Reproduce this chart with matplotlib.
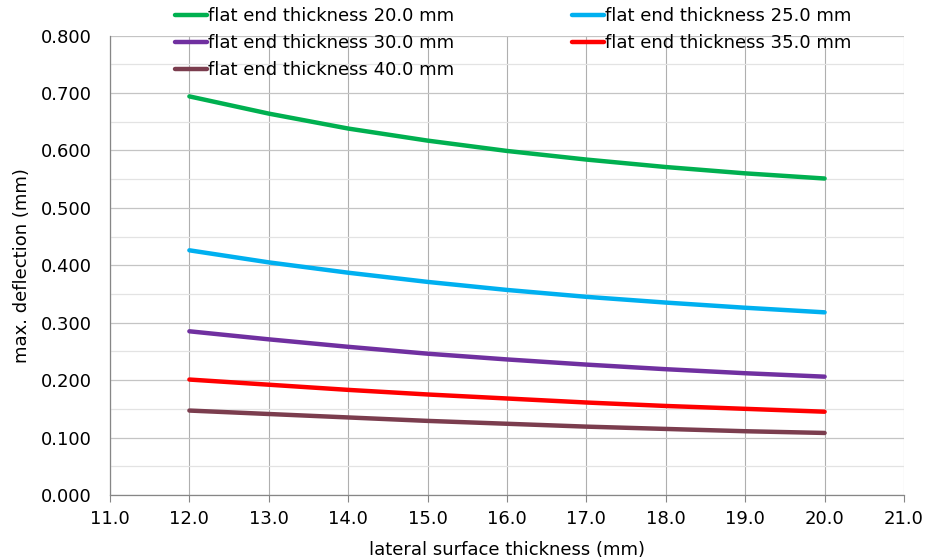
import numpy as np
import matplotlib
matplotlib.use('Agg')
import matplotlib.pyplot as plt
from matplotlib.ticker import MultipleLocator, FormatStrFormatter

# lateral surface thickness (mm)
lateral = [12.0, 13.0, 14.0, 15.0, 16.0, 17.0, 18.0, 19.0, 20.0]

# max. deflection (mm) for each flat end thickness
defl_20 = [0.694, 0.664, 0.638, 0.617, 0.599, 0.584, 0.571, 0.560, 0.551]
defl_25 = [0.426, 0.405, 0.387, 0.371, 0.357, 0.345, 0.335, 0.326, 0.318]
defl_30 = [0.285, 0.271, 0.258, 0.246, 0.236, 0.227, 0.219, 0.212, 0.206]
defl_35 = [0.201, 0.192, 0.183, 0.175, 0.168, 0.161, 0.155, 0.150, 0.145]
defl_40 = [0.147, 0.141, 0.135, 0.129, 0.124, 0.119, 0.115, 0.111, 0.108]

labels = ['flat end thickness 20.0 mm', 'flat end thickness 25.0 mm',
          'flat end thickness 30.0 mm', 'flat end thickness 35.0 mm',
          'flat end thickness 40.0 mm']
colors = ['#00B050', '#00B0F0', '#7030A0', '#FF0000', '#7B3D4E']

plt.rcParams['font.family'] = ['DejaVu Sans']
fs = 13
fig = plt.figure(figsize=(9.25, 5.6), dpi=100)
ax = fig.add_axes([0.1189, 0.1161, 0.9773 - 0.1189, 0.9366 - 0.1161])

lines = []
for ys, c, lab in zip([defl_20, defl_25, defl_30, defl_35, defl_40], colors, labels):
    l, = ax.plot(lateral, ys, color=c, lw=3.2, label=lab, solid_capstyle='round', zorder=3)
    lines.append(l)

ax.set_xlim(11, 21)
ax.set_ylim(0, 0.8)
ax.xaxis.set_major_locator(MultipleLocator(1.0))
ax.xaxis.set_major_formatter(FormatStrFormatter('%.1f'))
ax.yaxis.set_major_locator(MultipleLocator(0.1))
ax.yaxis.set_minor_locator(MultipleLocator(0.05))
ax.yaxis.set_major_formatter(FormatStrFormatter('%.3f'))

ax.grid(True, which='major', axis='x', color='#AFAFAF', lw=0.8)
ax.grid(True, which='major', axis='y', color='#C4C4C4', lw=0.9)
ax.grid(True, which='minor', axis='y', color='#E3E3E3', lw=0.9)
ax.set_axisbelow(True)

for s in ['top', 'right']:
    ax.spines[s].set_visible(False)
for s in ['left', 'bottom']:
    ax.spines[s].set_color('#868686')
    ax.spines[s].set_linewidth(0.9)

ax.tick_params(axis='x', which='major', length=5, color='#868686', labelsize=fs, pad=6)
ax.tick_params(axis='y', which='both', length=0, labelsize=fs, pad=13)

ax.set_xlabel('lateral surface thickness (mm)', fontsize=fs, labelpad=9)
ax.set_ylabel('max. deflection (mm)', fontsize=fs, labelpad=7)

# legend filled column-wise, so reorder to read row-wise like the original
order = [0, 2, 4, 1, 3]
fig.legend([lines[i] for i in order], [labels[i] for i in order],
           loc='upper left', bbox_to_anchor=(0.181, 1.0), ncol=2, frameon=False,
           fontsize=fs, handlelength=1.8, handletextpad=0.05, columnspacing=6.5,
           labelspacing=0.5, borderaxespad=0)

fig.savefig('out.png', dpi=100)
